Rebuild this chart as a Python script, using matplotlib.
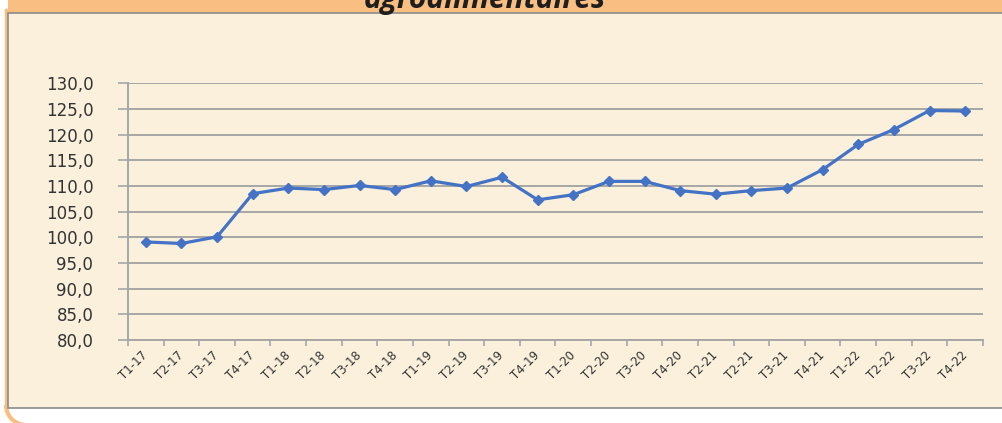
import matplotlib
matplotlib.use("Agg")
import matplotlib.pyplot as plt
from matplotlib.patches import Rectangle, Arc

categories = ["T1-17", "T2-17", "T3-17", "T4-17",
              "T1-18", "T2-18", "T3-18", "T4-18",
              "T1-19", "T2-19", "T3-19", "T4-19",
              "T1-20", "T2-20", "T3-20", "T4-20",
              "T2-21", "T2-21", "T3-21", "T4-21",
              "T1-22", "T2-22", "T3-22", "T4-22"]
values = [99.1, 98.8, 100.1, 108.5,
          109.6, 109.3, 110.1, 109.3,
          111.0, 109.9, 111.7, 107.3,
          108.3, 110.9, 110.9, 109.1,
          108.4, 109.1, 109.6, 113.2,
          118.1, 121.0, 124.7, 124.6]
y_ticks = [80, 85, 90, 95, 100, 105, 110, 115, 120, 125, 130]
y_tick_labels = ["80,0", "85,0", "90,0", "95,0", "100,0", "105,0",
                 "110,0", "115,0", "120,0", "125,0", "130,0"]
title = "agroalimentaires"

W, H = 1003, 423
fig = plt.figure(figsize=(W / 100, H / 100), dpi=100)
fig.patch.set_facecolor("white")

cream = "#FAF0DC"
orange = "#F9BE82"

def fx(px):
    return px / W

def fy(py):
    return 1 - py / H

# orange title band
fig.patches.append(Rectangle((fx(8), fy(13)), fx(W) - fx(8), fy(0) - fy(13),
                             transform=fig.transFigure, facecolor=orange,
                             edgecolor="none", zorder=0))
# cream panel
fig.patches.append(Rectangle((fx(8), fy(408)), fx(W + 5) - fx(8), fy(13) - fy(408),
                             transform=fig.transFigure, facecolor=cream,
                             edgecolor="#8A8A8A", linewidth=1.2, zorder=0.5))
# orange left edge
fig.add_artist(plt.Line2D([fx(6), fx(6)], [fy(10), fy(405)], transform=fig.transFigure,
                          color=orange, linewidth=2.5, zorder=0.4))
# orange bottom-left corner arc
fig.add_artist(Arc((fx(26), fy(405)), fx(40), fy(0) - fy(40), theta1=180, theta2=270,
                   transform=fig.transFigure, color=orange, linewidth=3, zorder=0.4))

fig.text(fx(485), fy(8), title, ha="center", va="baseline", fontsize=21.5,
         fontweight="bold", fontstyle="italic", family="Open Sans", color="#1E1E1E")

ax = fig.add_axes([fx(128), fy(340), fx(983) - fx(128), fy(83.3) - fy(340)])
ax.set_zorder(2)
ax.set_facecolor("none")
x = list(range(len(categories)))
ax.plot(x, values, color="#4472C4", linewidth=2.3, marker="D", markersize=5.5,
        markerfacecolor="#4472C4", markeredgecolor="#4472C4", zorder=3, clip_on=False)

ax.set_xlim(-0.5, len(categories) - 0.5)
ax.set_ylim(80, 130)
ax.set_yticks(y_ticks)
ax.set_yticklabels(y_tick_labels, fontsize=12, color="#333333", family="DejaVu Sans")
ax.yaxis.grid(True, color="#A6A6A6", linewidth=1.4)
ax.set_axisbelow(True)

ax.set_xticks(x)
ax.set_xticklabels(categories, rotation=45, ha="right", va="center",
                   rotation_mode="anchor", fontsize=8.5, color="#333333",
                   family="DejaVu Sans")
ax.set_xticks([i - 0.5 for i in range(len(categories) + 1)], minor=True)
ax.tick_params(axis="x", which="major", length=0, pad=10)
ax.tick_params(axis="x", which="minor", length=4, color="#A6A6A6", width=1.2)
ax.tick_params(axis="y", length=7, color="#A6A6A6", width=1.2, pad=18)

for s in ["top", "right"]:
    ax.spines[s].set_visible(False)
for s in ["left", "bottom"]:
    ax.spines[s].set_color("#A6A6A6")
    ax.spines[s].set_linewidth(1.4)

fig.savefig("out.png", dpi=100, facecolor=fig.get_facecolor())
